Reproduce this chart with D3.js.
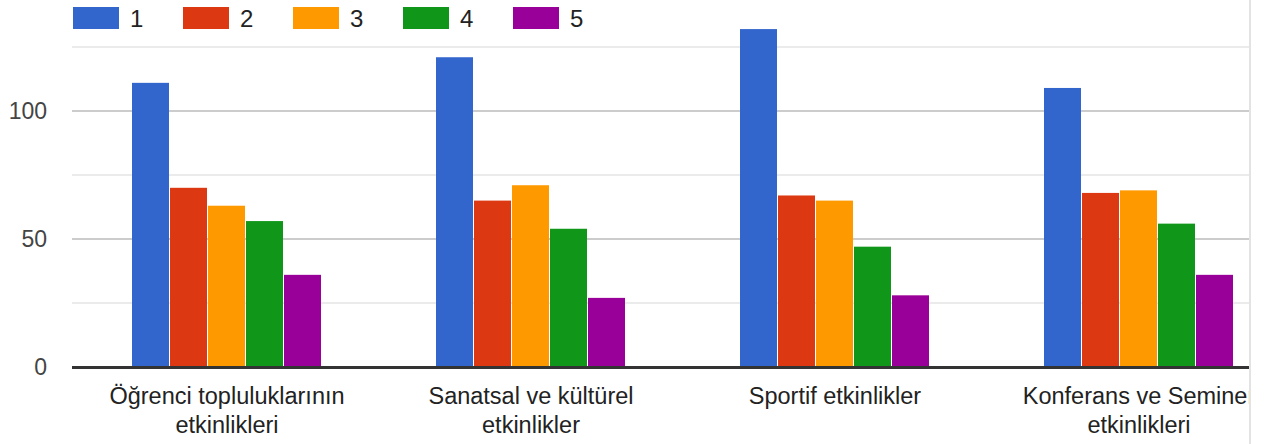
<!DOCTYPE html>
<html>
<head>
<meta charset="utf-8">
<script src="https://d3js.org/d3.v7.min.js"></script>
<style>
  html, body { margin: 0; padding: 0; background: #fff; }
  body { width: 1269px; height: 444px; overflow: hidden; position: relative; }
  #chart { position: absolute; left: 0; top: 0; }
  #edge { position: absolute; left: 1249px; top: 0; width: 2px; height: 444px; background: #e3e3e3; }
</style>
</head>
<body>
<svg id="chart"></svg>
<div id="edge"></div>
<script>
const categories = [
  ["Öğrenci topluluklarının", "etkinlikleri"],
  ["Sanatsal ve kültürel", "etkinlikler"],
  ["Sportif etkinlikler"],
  ["Konferans ve Seminer", "etkinlikleri"]
];
const seriesNames = ["1", "2", "3", "4", "5"];
const seriesColors = ["#3366cc", "#dc3912", "#ff9900", "#109618", "#990099"];

// one array per rating, one value per category
const values1 = [111, 121, 132, 109];
const values2 = [70, 65, 67, 68];
const values3 = [63, 71, 65, 69];
const values4 = [57, 54, 47, 56];
const values5 = [36, 27, 28, 36];

const majorTicks = [0, 50, 100];
const minorTicks = [25, 75, 125];

const seriesValues = [values1, values2, values3, values4, values5];

const W = 1249, H = 444;
const font = "'Liberation Sans', Arial, sans-serif";

const svg = d3.select("#chart")
    .attr("width", W)
    .attr("height", H)
    .style("font-family", font);

const catKeys = categories.map(c => c.join(" "));

const x0 = d3.scaleBand()
    .domain(catKeys)
    .range([75, 75 + 4 * 304])
    .padding(0);

const x1 = d3.scaleBand()
    .domain(seriesNames)
    .range([57, 247])
    .padding(0);

const y = d3.scaleLinear()
    .domain([0, 125])
    .range([367, 47]);

const gridLeft = 72;

// gridlines
svg.append("g").selectAll("line.minor")
    .data(minorTicks)
    .enter()
    .append("line")
        .attr("x1", gridLeft)
        .attr("x2", W)
        .attr("y1", d => y(d))
        .attr("y2", d => y(d))
        .attr("stroke", "#ebebeb")
        .attr("stroke-width", 2);

svg.append("g").selectAll("line.major")
    .data(majorTicks.filter(d => d > 0))
    .enter()
    .append("line")
        .attr("x1", gridLeft)
        .attr("x2", W)
        .attr("y1", d => y(d))
        .attr("y2", d => y(d))
        .attr("stroke", "#cccccc")
        .attr("stroke-width", 2);

// y axis labels
const yAxis = d3.axisLeft(y).tickValues(majorTicks).tickSize(0).tickPadding(0);
svg.append("g")
    .attr("transform", "translate(47,0)")
    .call(yAxis)
    .call(g => g.select(".domain").remove())
    .selectAll("text")
        .attr("fill", "#444")
        .style("font-size", "23px")
        .style("font-family", font);

// bars
const rows = catKeys.map((k, i) => ({
    key: k,
    vals: seriesNames.map((s, j) => ({ s: s, v: seriesValues[j][i], c: seriesColors[j] }))
}));

const groups = svg.append("g").selectAll("g")
    .data(rows)
    .enter()
    .append("g")
        .attr("transform", d => "translate(" + x0(d.key) + ",0)");

groups.selectAll("rect")
    .data(d => d.vals)
    .enter()
    .append("rect")
        .attr("x", d => x1(d.s))
        .attr("y", d => y(d.v))
        .attr("width", x1.bandwidth() - 1)
        .attr("height", d => y(0) - y(d.v))
        .attr("fill", d => d.c);

// baseline
svg.append("line")
    .attr("x1", gridLeft)
    .attr("x2", W)
    .attr("y1", y(0) + 0.5)
    .attr("y2", y(0) + 0.5)
    .attr("stroke", "#333")
    .attr("stroke-width", 3);

// category labels (the last one runs past the clipped edge, as in the source)
const labels = svg.append("g").selectAll("text")
    .data(categories)
    .enter()
    .append("text")
        .attr("text-anchor", "middle")
        .attr("fill", "#222")
        .style("font-size", "23.5px")
        .attr("transform", (d, i) => "translate(" + (x0(catKeys[i]) + x0.bandwidth() / 2) + ",0)");

labels.selectAll("tspan")
    .data(d => d)
    .enter()
    .append("tspan")
        .attr("x", 0)
        .attr("y", (d, i) => 404 + i * 29)
        .text(d => d);

// legend
const legend = svg.append("g").selectAll("g")
    .data(seriesNames)
    .enter()
    .append("g")
        .attr("transform", (d, i) => "translate(" + (73 + i * 110) + ",7)");

legend.append("rect")
    .attr("width", 46)
    .attr("height", 22)
    .attr("fill", (d, i) => seriesColors[i]);

legend.append("text")
    .attr("x", 57)
    .attr("y", 20)
    .attr("fill", "#222")
    .style("font-size", "24px")
    .text(d => d);
</script>
</body>
</html>
